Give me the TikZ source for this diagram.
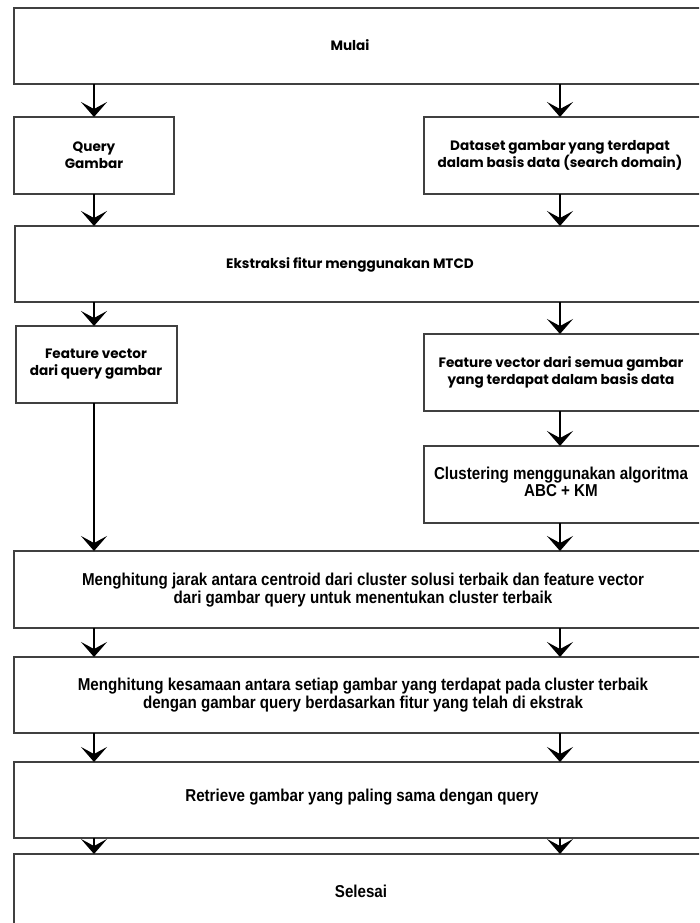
\documentclass[tikz,border=0pt]{standalone}
\usepackage{fontspec}
\setmainfont{Liberation Sans}
\newfontfamily\geo{Poppins}
\newfontfamily\narrow[FakeStretch=0.88]{Liberation Sans}
\usetikzlibrary{arrows.meta}
\begin{document}
\begin{tikzpicture}[x=1pt,y=-1pt,
  box/.style={draw=black!75, line width=1.1pt, fill=white, rectangle, anchor=north west, inner sep=0pt, outer sep=0pt},
  geotxt/.style={font=\geo\bfseries\fontsize{13.6}{17}\selectfont, align=center, inner sep=0pt},
  nartxt/.style={font=\narrow\bfseries\fontsize{17.2}{17.5}\selectfont, align=center, inner sep=0pt},
  arr/.style={line width=1.8pt, -{Stealth[length=15pt, width=26pt, inset=7pt]}, shorten >=0pt}]
\useasboundingbox (0,0) rectangle (699,923);
\clip (0,0) rectangle (699,923);
\coordinate (L) at (94,0);
\coordinate (R) at (560,0);
% boxes
\node[box, minimum width=690, minimum height=76] (mulai) at (14,8) {};
\node[box, minimum width=160, minimum height=77] (qbox) at (14,117) {};
\node[box, minimum width=280, minimum height=77] (dbox) at (424,117) {};
\node[box, minimum width=690, minimum height=76] (ebox) at (15,226) {};
\node[box, minimum width=161, minimum height=77] (flbox) at (16,326) {};
\node[box, minimum width=280, minimum height=77] (frbox) at (424,334) {};
\node[box, minimum width=280, minimum height=77] (clbox) at (424,446) {};
\node[box, minimum width=690, minimum height=77] (h1box) at (14,551) {};
\node[box, minimum width=690, minimum height=76] (h2box) at (14,657) {};
\node[box, minimum width=690, minimum height=76] (rtbox) at (14,762) {};
\node[box, minimum width=690, minimum height=90] (selbox) at (14,854) {};
% texts
\node[geotxt] (tmulai) at (350,45) {Mulai};
\node[geotxt] (tq) at (94,155) {Query\\Gambar};
\node[geotxt] (td) at (560,155) {Dataset gambar yang terdapat\\dalam basis data (search domain)};
\node[geotxt] (te) at (350,265) {Ekstraksi fitur menggunakan MTCD};
\node[geotxt] (tfl) at (96,364) {Feature vector\\dari query gambar};
\node[geotxt] (tfr) at (561,372) {Feature vector dari semua gambar\\yang terdapat dalam basis data};
\node[nartxt] (tcl) at (561,482) {Clustering menggunakan algoritma\\ABC + KM};
\node[nartxt] (th1) at (363,590) {Menghitung jarak antara centroid dari cluster solusi terbaik dan feature vector\\dari gambar query untuk menentukan cluster terbaik};
\node[nartxt] (th2) at (363,695) {Menghitung kesamaan antara setiap gambar yang terdapat pada cluster terbaik\\dengan gambar query berdasarkan fitur yang telah di ekstrak};
\node[nartxt] (trt) at (362,797) {Retrieve gambar yang paling sama dengan query};
\node[nartxt] (tsel) at (361,891) {Selesai};
% arrows
\draw[arr] (mulai.south -| L) -- (qbox.north -| L);
\draw[arr] (mulai.south -| R) -- (dbox.north -| R);
\draw[arr] (qbox.south -| L) -- (ebox.north -| L);
\draw[arr] (dbox.south -| R) -- (ebox.north -| R);
\draw[arr] (ebox.south -| L) -- (flbox.north -| L);
\draw[arr] (ebox.south -| R) -- (frbox.north -| R);
\draw[arr] (frbox.south -| R) -- (clbox.north -| R);
\draw[arr] (flbox.south -| L) -- (h1box.north -| L);
\draw[arr] (clbox.south -| R) -- (h1box.north -| R);
\draw[arr] (h1box.south -| L) -- (h2box.north -| L);
\draw[arr] (h1box.south -| R) -- (h2box.north -| R);
\draw[arr] (h2box.south -| L) -- (rtbox.north -| L);
\draw[arr] (h2box.south -| R) -- (rtbox.north -| R);
\draw[arr] (rtbox.south -| L) -- (selbox.north -| L);
\draw[arr] (rtbox.south -| R) -- (selbox.north -| R);
\end{tikzpicture}
\end{document}
